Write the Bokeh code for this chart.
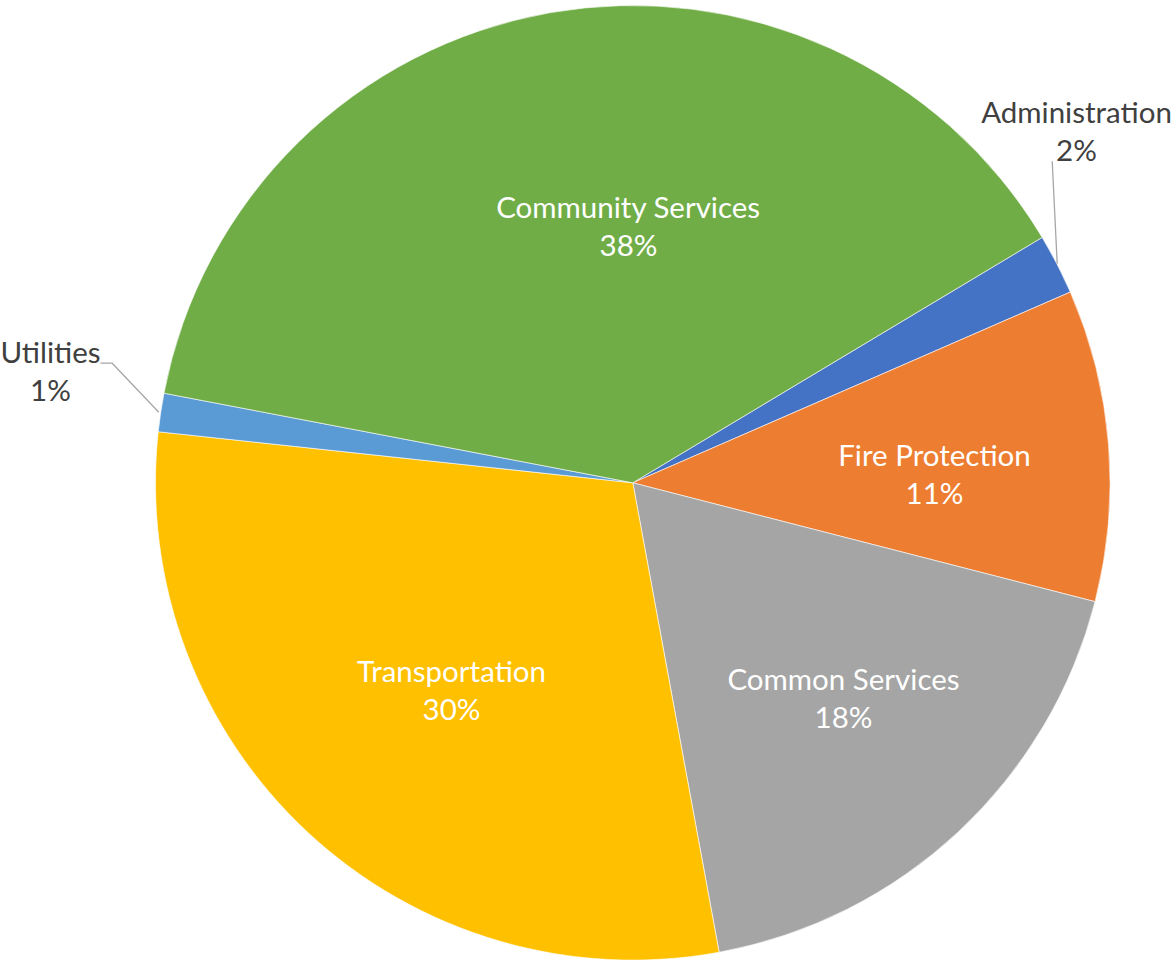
import math
from bokeh.plotting import figure
from bokeh.models import Range1d
from bokeh.embed import file_html
from bokeh.resources import INLINE
from bokeh.core.properties import value

# ---- data ----
categories = ["Administration", "Fire Protection", "Common Services",
              "Transportation", "Utilities", "Community Services"]
shares = [2.05, 10.55, 18.1, 29.6, 1.3, 38.4]
colors = ["#4472C4", "#ED7D31", "#A5A5A5", "#FFC000", "#5B9BD5", "#70AD47"]

# ---- layout ----
W, H = 1172, 960
CX, CY, R = 632.3, 482.3, 477.3          # pixel coords (y down)
FIRST_ANGLE = 59.06                       # clockwise from 12 o'clock
FONT = "Lato"
FS = "29.5px"
LINE_GAP = 38
# label centre (pixel coords), text colour
label_layout = {
    "Community Services": (628, 225, "white"),
    "Administration": (1076, 130, "#404040"),
    "Fire Protection": (934, 473, "white"),
    "Common Services": (843, 697, "white"),
    "Transportation": (451, 689, "white"),
    "Utilities": (50, 370, "#404040"),
}
leaders = {
    "Administration": [(1051.7, 160.7), (1056.7, 263.3)],
    "Utilities": [(100, 362.7), (111.7, 362.7), (158.3, 411.7)],
}


def fy(y):
    return H - y


p = figure(width=W, height=H, x_range=Range1d(0, W), y_range=Range1d(0, H),
           output_backend="svg", toolbar_location=None, min_border=0)
p.axis.visible = False
p.grid.visible = False
p.outline_line_color = None
p.background_fill_color = "white"
p.border_fill_color = "white"

total = sum(shares)
starts, ends = [], []
c = FIRST_ANGLE
for s in shares:
    c1 = c + s / total * 360.0
    starts.append(math.radians(90 - c1))
    ends.append(math.radians(90 - c))
    c = c1

p.wedge(x=[CX] * len(shares), y=[fy(CY)] * len(shares), radius=R,
        start_angle=starts, end_angle=ends, direction="anticlock",
        fill_color=colors, line_color="white", line_width=0.6)

for name, pts in leaders.items():
    p.line([q[0] for q in pts], [fy(q[1]) for q in pts],
           line_color="#A6A6A6", line_width=1.3)

for name, s in zip(categories, shares):
    lx, ly, col = label_layout[name]
    pct = f"{s / total * 100:.0f}%"
    p.text(x=[lx, lx], y=[fy(ly - LINE_GAP / 2), fy(ly + LINE_GAP / 2)],
           text=[name, pct], text_font=value(FONT), text_font_size=FS,
           text_color=col, text_align="center", text_baseline="middle")

open("out.html", "w").write(file_html(p, INLINE))
